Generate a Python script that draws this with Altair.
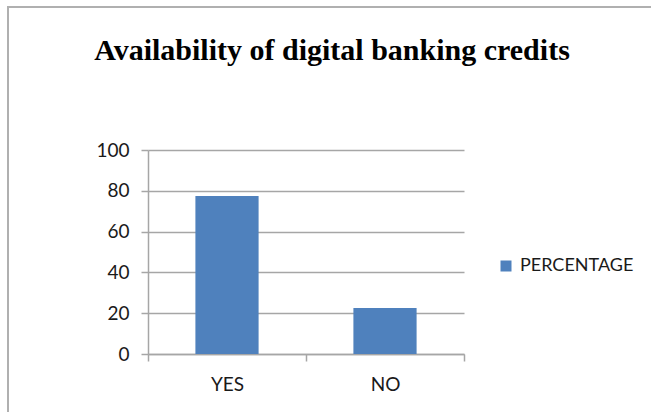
import altair as alt
import pandas as pd

categories = ["YES", "NO"]
percentages = [77.5, 22.5]
series_name = "PERCENTAGE"
y_ticks = [0, 20, 40, 60, 80, 100]

df = pd.DataFrame({"category": categories, "value": percentages, "series": [series_name] * len(categories)})

label_font = "Lato"
grey = "#a6a6a6"
txt = "#1a1a1a"

bars = alt.Chart(df).mark_bar(width=alt.RelativeBandSize(0.4), color="#4F81BD").encode(
    x=alt.X("category:N", sort=categories,
            scale=alt.Scale(paddingInner=0, paddingOuter=0),
            axis=alt.Axis(title=None, labelAngle=0, grid=False, tickBand="extent",
                          domainColor=grey, tickColor=grey, tickSize=7, domainWidth=1.5, tickWidth=1.5,
                          labelFont=label_font, labelFontSize=19, labelColor=txt,
                          labelPadding=14)),
    y=alt.Y("value:Q", scale=alt.Scale(domain=[0, 100], nice=False),
            axis=alt.Axis(title=None, values=y_ticks, grid=True, gridColor=grey, gridWidth=1.5,
                          domainColor=grey, tickColor=grey, tickSize=7, domainWidth=1.5, tickWidth=1.5,
                          labelFont=label_font, labelFontSize=19, labelColor=txt,
                          labelPadding=12)),
    color=alt.Color("series:N", scale=alt.Scale(range=["#4F81BD"]),
                    legend=alt.Legend(title=None, orient="none", legendX=349, legendY=107,
                                      symbolType="square", symbolSize=121, symbolStrokeWidth=0,
                                      labelFont=label_font, labelFontSize=18, labelColor=txt,
                                      labelOffset=5)),
)

border = alt.Chart(pd.DataFrame({"a": [0]})).mark_rect(fill=None, stroke="#b0b0b0", strokeWidth=2).encode(
    x=alt.value(8 - 148), x2=alt.value(700), y=alt.value(7 - 150), y2=alt.value(500)
)

chart = alt.layer(border, bars).properties(
    width=316, height=204,
    title=alt.TitleParams("Availability of digital banking credits", font="Liberation Serif",
                          fontSize=30, fontWeight="bold", color="#000000",
                          anchor="middle", frame="group", baseline="alphabetic",
                          dx=26, offset=-84),
    autosize=alt.AutoSizeParams(type="none"),
    padding={"left": 148, "top": 150, "right": 187, "bottom": 58},
).configure_view(stroke=None)

chart.save("out.html", embed_options={"renderer": "svg", "actions": False})
